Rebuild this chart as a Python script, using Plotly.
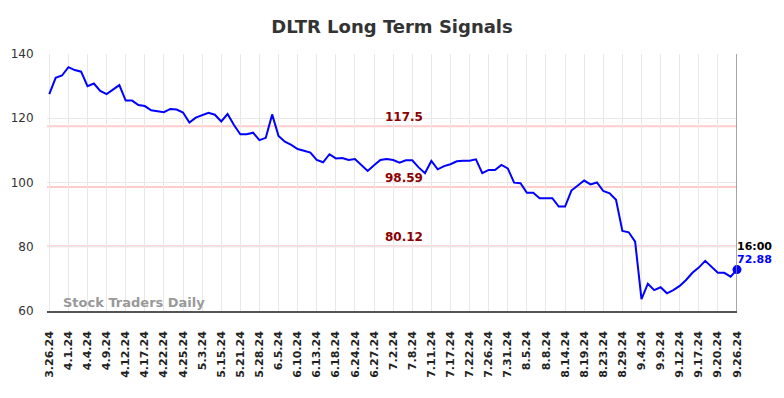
import plotly.graph_objects as go

title_text = "DLTR Long Term Signals"

prices = [
    127.5, 132.6, 133.3, 135.9, 135.0, 134.5, 130.0, 130.8, 128.5, 127.5,
    128.9, 130.3, 125.5, 125.5, 124.1, 123.8, 122.5, 122.3, 121.9, 122.9,
    122.7, 121.8, 118.7, 120.2, 121.0, 121.7, 121.1, 119.0, 121.3, 117.9,
    115.0, 115.0, 115.5, 113.2, 113.9, 121.2, 114.5, 112.7, 111.7, 110.4,
    109.9, 109.3, 107.0, 106.3, 108.8, 107.5, 107.6, 107.0, 107.3, 105.4,
    103.6, 105.4, 107.0, 107.3, 107.0, 106.2, 106.9, 106.9, 104.7, 102.9,
    106.7, 104.1, 105.1, 105.7, 106.6, 106.8, 106.8, 107.2, 102.9, 103.9,
    103.9, 105.45, 104.4, 99.95, 99.75, 96.8, 96.8, 95.1, 95.1, 95.1,
    92.5, 92.5, 97.5, 99.0, 100.6, 99.4, 100.0, 97.35, 96.6, 94.6,
    84.9, 84.5, 81.6, 63.7, 68.5, 66.5, 67.4, 65.5, 66.5, 67.8,
    69.65, 71.9, 73.5, 75.6, 73.8, 71.9, 71.9, 70.7, 72.88,
]

tick_labels = [
    "3.26.24", "4.1.24", "4.4.24", "4.9.24", "4.12.24", "4.17.24", "4.22.24",
    "4.25.24", "5.3.24", "5.15.24", "5.21.24", "5.28.24", "6.5.24", "6.10.24",
    "6.13.24", "6.18.24", "6.24.24", "6.27.24", "7.2.24", "7.8.24", "7.11.24",
    "7.17.24", "7.22.24", "7.26.24", "7.31.24", "8.5.24", "8.8.24", "8.14.24",
    "8.19.24", "8.23.24", "8.29.24", "9.4.24", "9.9.24", "9.12.24", "9.17.24",
    "9.20.24", "9.26.24",
]
tick_step = 3

levels = [117.5, 98.59, 80.12]
level_labels = ["117.5", "98.59", "80.12"]

last_time = "16:00"
last_value_label = "72.88"
watermark = "Stock Traders Daily"

y_ticks = [60, 80, 100, 120, 140]

FONT = "DejaVu Sans"

x = list(range(len(prices)))
last_x = x[-1]
tickvals = [i * tick_step for i in range(len(tick_labels))]

fig = go.Figure()
fig.add_trace(go.Scatter(
    x=x, y=prices, mode="lines",
    line=dict(color="#0000ff", width=2),
    hoverinfo="skip", showlegend=False,
))
fig.add_trace(go.Scatter(
    x=[last_x], y=[prices[-1]], mode="markers",
    marker=dict(color="#0000ff", size=9),
    hoverinfo="skip", showlegend=False, cliponaxis=False,
))

shapes = []
annotations = []
for lv, lab in zip(levels, level_labels):
    shapes.append(dict(type="line", xref="paper", x0=0, x1=1, yref="y",
                       y0=lv, y1=lv, line=dict(color="#ffcccc", width=2),
                       layer="below"))
    annotations.append(dict(xref="paper", x=0.517, yref="y", y=lv,
                            text="<b>%s</b>" % lab, showarrow=False,
                            yshift=9, font=dict(family=FONT, size=12, color="#8b0000")))

shapes.append(dict(type="line", xref="x", x0=last_x, x1=last_x, yref="paper",
                   y0=0, y1=1, line=dict(color="#888888", width=1.5)))

annotations.append(dict(xref="x", x=last_x, yref="y", y=prices[-1],
                        text="<b>%s</b>" % last_time, showarrow=False,
                        xanchor="left", yshift=23, xshift=-2,
                        font=dict(family=FONT, size=11, color="#000000")))
annotations.append(dict(xref="x", x=last_x, yref="y", y=prices[-1],
                        text="<b>%s</b>" % last_value_label, showarrow=False,
                        xanchor="left", yshift=10, xshift=-2,
                        font=dict(family=FONT, size=11, color="#0000ff")))
annotations.append(dict(xref="paper", x=0.02, yref="paper", y=0.035,
                        xanchor="left", yanchor="middle",
                        text="<b>%s</b>" % watermark, showarrow=False,
                        font=dict(family=FONT, size=13, color="#999999")))

fig.update_layout(
    width=768, height=382,
    margin=dict(l=39, r=39, t=46, b=79),
    paper_bgcolor="white", plot_bgcolor="white",
    title=dict(text="<b>%s</b>" % title_text, x=0.5, xanchor="center",
               y=0.95, yanchor="middle",
               font=dict(family=FONT, size=18, color="#333333")),
    shapes=shapes, annotations=annotations,
    font=dict(family=FONT),
    xaxis=dict(
        range=[-0.36, last_x], tickmode="array", tickvals=tickvals,
        ticktext=["<b>%s</b>" % t for t in tick_labels], tickangle=-90,
        tickfont=dict(family=FONT, size=11, color="#222222"),
        showgrid=True, gridcolor="#e8e8e8", gridwidth=1,
        showline=True, linecolor="#555555", linewidth=1.5,
        ticks="outside", ticklen=14, tickcolor="rgba(0,0,0,0)",
        zeroline=False, fixedrange=True, automargin=False,
    ),
    yaxis=dict(
        range=[60, 140], tickmode="array", tickvals=y_ticks,
        tickfont=dict(family=FONT, size=12, color="#333333"),
        showgrid=True, gridcolor="#e8e8e8", gridwidth=1,
        showline=False, zeroline=False,
        ticks="outside", ticklen=10, tickcolor="rgba(0,0,0,0)",
        fixedrange=True, automargin=False,
    ),
)

fig.write_html("out.html")
